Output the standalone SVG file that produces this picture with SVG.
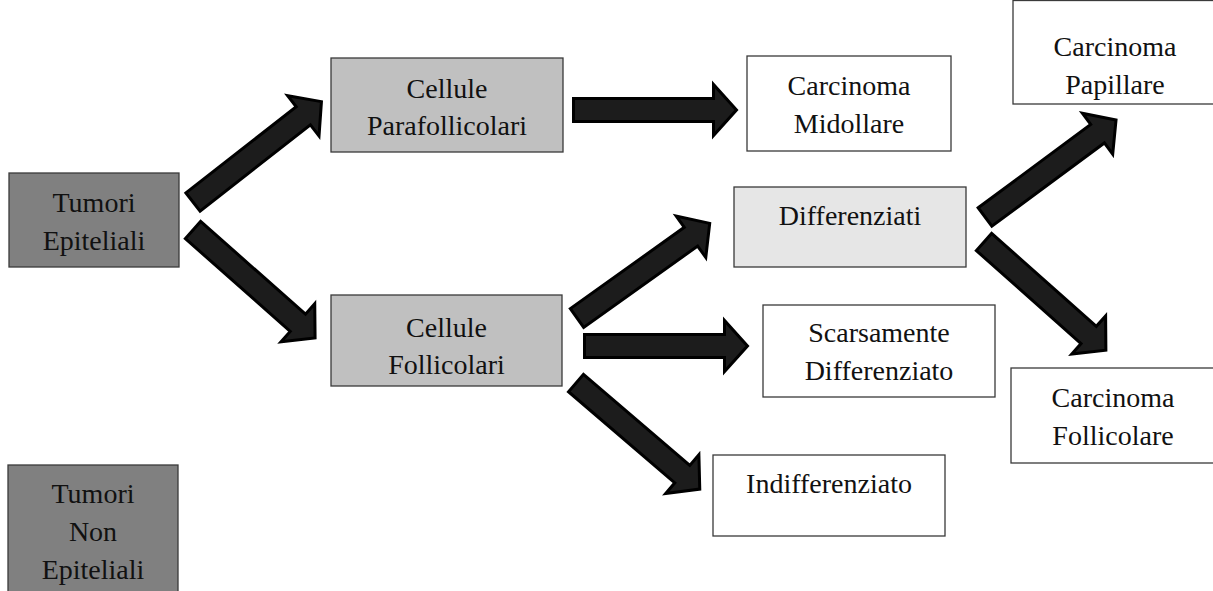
<svg xmlns="http://www.w3.org/2000/svg" xmlns:xlink="http://www.w3.org/1999/xlink" width="1213" height="591" viewBox="0 0 1213 591">
<style>
.box{stroke:#3a3a3a;stroke-width:1.3}
.dark{fill:#808080}
.mid{fill:#c0c0c0}
.light{fill:#e6e6e6}
.white{fill:#ffffff}
text{font-family:"Liberation Serif","DejaVu Serif","Times New Roman",serif;font-size:28px;fill:#111;text-anchor:middle}
.arrow{fill:#1c1c1c;stroke:#000;stroke-width:3;stroke-linejoin:miter;stroke-miterlimit:10}
</style>
<defs>
<path id="arr" d="M0,-11.5 H140 V-25.5 L163,0 L140,25.5 V11.5 H0 Z"/>
</defs>
<rect width="1213" height="591" fill="#ffffff"/>
<g id="connectors">
<use xlink:href="#arr" href="#arr" class="arrow" transform="translate(193,202) rotate(-38)"/>
<use xlink:href="#arr" href="#arr" class="arrow" transform="translate(193,230) rotate(41.5)"/>
<use xlink:href="#arr" href="#arr" class="arrow" transform="translate(573.5,110)"/>
<use xlink:href="#arr" href="#arr" class="arrow" transform="translate(577,318) rotate(-35.5)"/>
<use xlink:href="#arr" href="#arr" class="arrow" transform="translate(584.5,346)"/>
<use xlink:href="#arr" href="#arr" class="arrow" transform="translate(576,383) rotate(40.6)"/>
<use xlink:href="#arr" href="#arr" class="arrow" transform="translate(985,217) rotate(-36.5)"/>
<use xlink:href="#arr" href="#arr" class="arrow" transform="translate(984,242) rotate(41.6)"/>
</g>
<g id="tumori-epiteliali">
<rect class="box dark" x="9" y="173" width="170" height="94"/>
<text x="94" y="212" font-family="Liberation Serif, serif">Tumori<tspan x="94" dy="38">Epiteliali</tspan></text>
</g>
<g id="tumori-non-epiteliali">
<rect class="box dark" x="8" y="465" width="170" height="140"/>
<text x="93" y="503" font-family="Liberation Serif, serif">Tumori<tspan x="93" dy="38">Non</tspan><tspan x="93" dy="38">Epiteliali</tspan></text>
</g>
<g id="cellule-parafollicolari">
<rect class="box mid" x="331" y="58" width="232" height="94"/>
<text x="447" y="98" font-family="Liberation Serif, serif">Cellule<tspan x="447" dy="37">Parafollicolari</tspan></text>
</g>
<g id="cellule-follicolari">
<rect class="box mid" x="331" y="295" width="231" height="91"/>
<text x="446.5" y="337" font-family="Liberation Serif, serif">Cellule<tspan x="446.5" dy="37">Follicolari</tspan></text>
</g>
<g id="carcinoma-midollare">
<rect class="box white" x="747" y="56" width="204" height="95"/>
<text x="849" y="95" font-family="Liberation Serif, serif">Carcinoma<tspan x="849" dy="38">Midollare</tspan></text>
</g>
<g id="differenziati">
<rect class="box light" x="734" y="187" width="232" height="80"/>
<text x="850" y="225" font-family="Liberation Serif, serif">Differenziati</text>
</g>
<g id="scarsamente-differenziato">
<rect class="box white" x="763" y="305" width="232" height="92"/>
<text x="879" y="342" font-family="Liberation Serif, serif">Scarsamente<tspan x="879" dy="38">Differenziato</tspan></text>
</g>
<g id="indifferenziato">
<rect class="box white" x="713" y="455" width="232" height="81"/>
<text x="829" y="493" font-family="Liberation Serif, serif">Indifferenziato</text>
</g>
<g id="carcinoma-papillare">
<rect class="box white" x="1013" y="0.5" width="204" height="103.5"/>
<text x="1115" y="56" font-family="Liberation Serif, serif">Carcinoma<tspan x="1115" dy="38">Papillare</tspan></text>
</g>
<g id="carcinoma-follicolare">
<rect class="box white" x="1011" y="368" width="204" height="95"/>
<text x="1113" y="407" font-family="Liberation Serif, serif">Carcinoma<tspan x="1113" dy="38">Follicolare</tspan></text>
</g>
</svg>
